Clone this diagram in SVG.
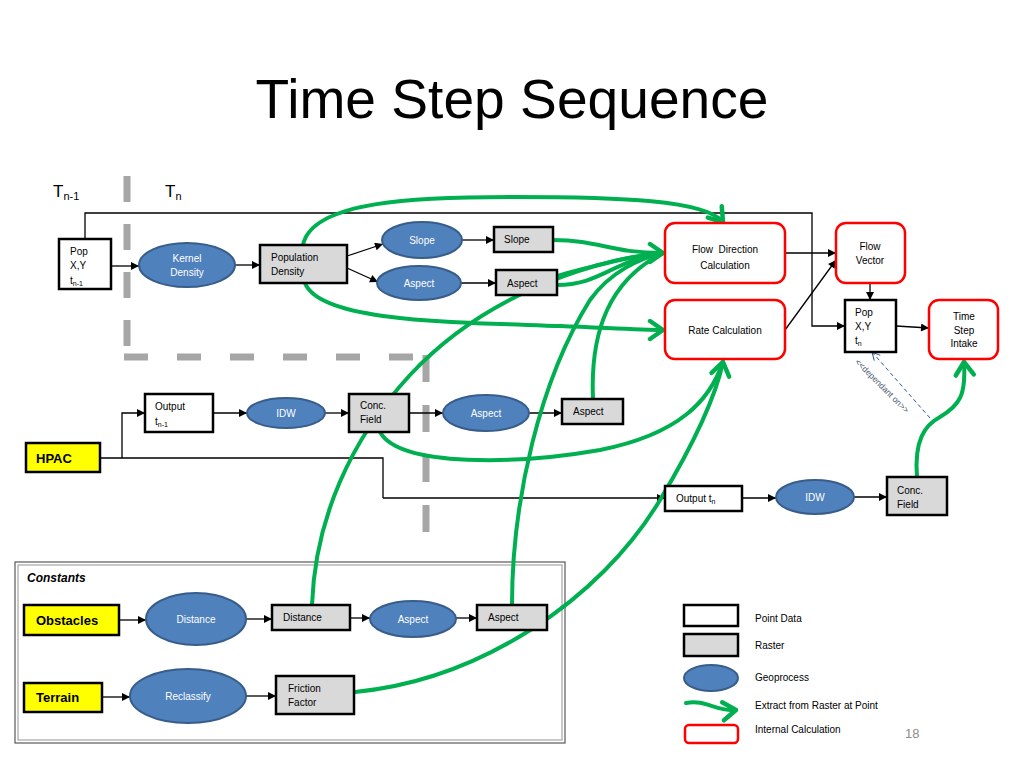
<svg xmlns="http://www.w3.org/2000/svg" width="1024" height="768" viewBox="0 0 1024 768">
<defs>
<style>
text{font-family:"Liberation Sans",Arial,sans-serif;fill:#000}
.t{font-size:10px}
.tw{font-size:10px;fill:#fff}
.tb{font-size:13px;font-weight:bold}
.pt{fill:#fff;stroke:#000;stroke-width:2.5}
.ra{fill:#d9d9d9;stroke:#000;stroke-width:2.5}
.ge{fill:#4f81bd;stroke:#385d8a;stroke-width:2}
.ic{fill:#fff;stroke:#ff0000;stroke-width:2.5}
.ye{fill:#ffff00;stroke:#000;stroke-width:2.5}
.c{fill:none;stroke:#000;stroke-width:1.3;marker-end:url(#ah)}
.cn{fill:none;stroke:#000;stroke-width:1.3}
.g{fill:none;stroke:#00b050;stroke-width:4;stroke-linecap:round}
.ga{fill:none;stroke:#00b050;stroke-width:4;stroke-linecap:round;marker-end:url(#gh)}
.dv{fill:none;stroke:#a6a6a6;stroke-width:7}
.lbl{font-size:17px;fill:#000}
</style>
<marker id="ah" viewBox="0 0 10 10" refX="10" refY="5" markerWidth="10" markerHeight="8" markerUnits="userSpaceOnUse" orient="auto">
<path d="M0,0 L10,5 L0,10 z" fill="#000"/>
</marker>
<marker id="gh" viewBox="-16 -12 20 24" refX="0" refY="0" markerWidth="20" markerHeight="24" markerUnits="userSpaceOnUse" orient="auto">
<path d="M-13,-9 L0,0 L-13,9" fill="none" stroke="#00b050" stroke-width="4.5" stroke-linecap="round" stroke-linejoin="round"/>
</marker>
<marker id="dh" viewBox="-10 -6 12 12" refX="0" refY="0" markerWidth="12" markerHeight="12" markerUnits="userSpaceOnUse" orient="auto">
<path d="M-8,-4 L0,0 L-8,4" fill="none" stroke="#2f5597" stroke-width="1"/>
</marker>
</defs>
<rect width="1024" height="768" fill="#fff"/>

<text x="512" y="118" text-anchor="middle" font-size="56" textLength="513" lengthAdjust="spacingAndGlyphs">Time Step Sequence</text>

<g id="labels">
<text class="lbl" x="53" y="197">T<tspan font-size="11" dy="3">n-1</tspan></text>
<text class="lbl" x="165" y="197">T<tspan font-size="11" dy="3">n</tspan></text>
</g>

<g id="dividers">
<path class="dv" d="M127,176 V357" stroke-dasharray="26 22"/>
<path class="dv" d="M124,357 H426" stroke-dasharray="24 29"/>
<path class="dv" d="M426,355 V532" stroke-dasharray="27 23"/>
</g>

<g id="constants-frame">
<rect x="15" y="562" width="550" height="181" fill="#fff" stroke="#595959" stroke-width="1.2"/>
<rect x="18" y="565" width="544" height="175" fill="none" stroke="#a6a6a6" stroke-width="1.2"/>
<text x="27" y="582" font-size="12" font-weight="bold" font-style="italic">Constants</text>
</g>

<g id="connectors">
<path class="c" d="M85,239 V213 H812 V326 H845"/>
<path class="c" d="M111,266 H139"/>
<path class="c" d="M235,265 H260"/>
<path class="c" d="M347,256 L383,244"/>
<path class="c" d="M347,268 L378,282"/>
<path class="c" d="M462,240 H494"/>
<path class="c" d="M460,283 H496"/>
<path class="c" d="M785,253 H836"/>
<path class="c" d="M785,330 L836,260"/>
<path class="c" d="M870,283 V300"/>
<path class="c" d="M896,326 L929,328"/>
<path class="cn" d="M100,458 H383 V498"/>
<path class="c" d="M383,498 H665"/>
<path class="c" d="M122,458 V413 H145"/>
<path class="c" d="M213,413 H247"/>
<path class="c" d="M325,413 H349"/>
<path class="c" d="M409,413 H443"/>
<path class="c" d="M529,413 H562"/>
<path class="c" d="M742,498 H776"/>
<path class="c" d="M854,497 H887"/>
<path class="c" d="M119,620 H146"/>
<path class="c" d="M246,619 H272"/>
<path class="c" d="M350,618 H370"/>
<path class="c" d="M456,618 H477"/>
<path class="c" d="M102,697 H130"/>
<path class="c" d="M246,696 H276"/>
<path d="M930,418 L872,352" fill="none" stroke="#2f5597" stroke-width="1" stroke-dasharray="4 3" marker-end="url(#dh)"/>
<text x="880" y="388" font-size="8.5" style="fill:#44546a" text-anchor="middle" transform="rotate(45 880 388)">&lt;&lt;dependant on&gt;&gt;</text>
</g>

<g id="extract-connectors">
<path class="ga" d="M303,245 C312,200 420,197 513,197 C620,197 705,200 723,222"/>
<path class="ga" d="M305,283 C320,322 450,322 560,326 C610,328 640,330 663,330"/>
<path class="ga" d="M553,240 C600,240 610,253 663,253"/>
<path class="g" d="M557,276 C595,266 625,256 663,253"/>
<path class="g" d="M557,285 C600,285 610,262 663,253"/>
<path class="g" d="M312,605 C315,520 350,440 410,375 C480,300 580,262 663,253"/>
<path class="g" d="M512,605 C512,500 540,380 590,300 C610,272 640,258 663,253"/>
<path class="g" d="M593,399 C590,330 610,280 663,253"/>
<path class="g" d="M380,432 C400,468 520,464 600,450 C680,434 710,400 723,362"/>
<path class="ga" d="M355,692 C480,680 600,600 660,500 C690,450 715,400 723,362"/>
<path class="ga" d="M917,477 C914,440 925,425 940,417 C960,405 966,395 964,362"/>
</g>

<g id="pop-tn1"><rect class="pt" x="59" y="239" width="52" height="50"/>
<text class="t" x="70" y="255">Pop</text><text class="t" x="70" y="269">X,Y</text><text class="t" x="70" y="284">t<tspan font-size="7" dy="2">n-1</tspan></text></g>
<g id="kernel-density"><ellipse class="ge" cx="187" cy="265" rx="48" ry="22"/>
<text class="tw" x="187" y="262" text-anchor="middle">Kernel</text><text class="tw" x="187" y="276" text-anchor="middle">Density</text></g>
<g id="population-density"><rect class="ra" x="260" y="245" width="87" height="38"/>
<text class="t" x="271" y="261">Population</text><text class="t" x="271" y="275">Density</text></g>
<g id="slope-proc"><ellipse class="ge" cx="422" cy="240" rx="40" ry="18"/><text class="tw" x="422" y="244" text-anchor="middle">Slope</text></g>
<g id="aspect-proc"><ellipse class="ge" cx="419" cy="283" rx="42" ry="17"/><text class="tw" x="419" y="287" text-anchor="middle">Aspect</text></g>
<g id="slope-raster"><rect class="ra" x="494" y="227" width="59" height="25"/><text class="t" x="504" y="243">Slope</text></g>
<g id="aspect-raster"><rect class="ra" x="496" y="270" width="61" height="25"/><text class="t" x="507" y="287">Aspect</text></g>
<g id="flow-direction"><rect class="ic" x="665" y="223" width="120" height="60" rx="10"/>
<text class="t" x="725" y="253" text-anchor="middle" xml:space="preserve">Flow  Direction</text><text class="t" x="725" y="269" text-anchor="middle">Calculation</text></g>
<g id="rate-calculation"><rect class="ic" x="665" y="300" width="120" height="59" rx="10"/>
<text class="t" x="725" y="334" text-anchor="middle">Rate Calculation</text></g>
<g id="flow-vector"><rect class="ic" x="836" y="223" width="69" height="60" rx="10"/>
<text class="t" x="870" y="250" text-anchor="middle">Flow</text><text class="t" x="870" y="264" text-anchor="middle">Vector</text></g>
<g id="pop-tn"><rect class="pt" x="845" y="300" width="51" height="52"/>
<text class="t" x="855" y="316">Pop</text><text class="t" x="855" y="330">X,Y</text><text class="t" x="855" y="344">t<tspan font-size="7" dy="2">n</tspan></text></g>
<g id="time-step-intake"><rect class="ic" x="929" y="300" width="69" height="59" rx="10"/>
<text class="t" x="964" y="320" text-anchor="middle">Time</text><text class="t" x="964" y="334" text-anchor="middle">Step</text><text class="t" x="964" y="347" text-anchor="middle">Intake</text></g>

<g id="output-tn1"><rect class="pt" x="145" y="394" width="68" height="38"/>
<text class="t" x="155" y="410">Output</text><text class="t" x="155" y="425">t<tspan font-size="7" dy="2">n-1</tspan></text></g>
<g id="idw-1"><ellipse class="ge" cx="286" cy="413" rx="39" ry="15"/><text class="tw" x="286" y="417" text-anchor="middle">IDW</text></g>
<g id="conc-field-1"><rect class="ra" x="349" y="394" width="60" height="38"/>
<text class="t" x="360" y="409">Conc.</text><text class="t" x="360" y="423">Field</text></g>
<g id="aspect-proc-2"><ellipse class="ge" cx="486" cy="413" rx="43" ry="18"/><text class="tw" x="486" y="417" text-anchor="middle">Aspect</text></g>
<g id="aspect-raster-2"><rect class="ra" x="562" y="399" width="61" height="25"/><text class="t" x="573" y="415">Aspect</text></g>
<g id="hpac"><rect class="ye" x="26" y="443" width="74" height="29"/><text class="tb" x="36" y="463">HPAC</text></g>
<g id="output-tn"><rect class="pt" x="665" y="486" width="77" height="25"/>
<text class="t" x="676" y="502">Output t<tspan font-size="7" dy="2">n</tspan></text></g>
<g id="idw-2"><ellipse class="ge" cx="815" cy="497" rx="39" ry="17"/><text class="tw" x="815" y="501" text-anchor="middle">IDW</text></g>
<g id="conc-field-2"><rect class="ra" x="887" y="477" width="60" height="38"/>
<text class="t" x="897" y="494">Conc.</text><text class="t" x="897" y="508">Field</text></g>

<g id="obstacles"><rect class="ye" x="24" y="605" width="95" height="30"/><text class="tb" x="36" y="625">Obstacles</text></g>
<g id="distance-proc"><ellipse class="ge" cx="196" cy="619" rx="50" ry="26"/><text class="tw" x="196" y="623" text-anchor="middle">Distance</text></g>
<g id="distance-raster"><rect class="ra" x="272" y="605" width="78" height="25"/><text class="t" x="283" y="621">Distance</text></g>
<g id="aspect-proc-3"><ellipse class="ge" cx="413" cy="619" rx="43" ry="18"/><text class="tw" x="413" y="623" text-anchor="middle">Aspect</text></g>
<g id="aspect-raster-3"><rect class="ra" x="477" y="605" width="70" height="25"/><text class="t" x="488" y="621">Aspect</text></g>
<g id="terrain"><rect class="ye" x="24" y="683" width="78" height="29"/><text class="tb" x="36" y="702">Terrain</text></g>
<g id="reclassify"><ellipse class="ge" cx="188" cy="696" rx="58" ry="27"/><text class="tw" x="188" y="700" text-anchor="middle">Reclassify</text></g>
<g id="friction-factor"><rect class="ra" x="276" y="676" width="78" height="38"/>
<text class="t" x="288" y="692">Friction</text><text class="t" x="288" y="706">Factor</text></g>

<g id="legend">
<rect class="pt" x="684" y="605" width="54" height="21"/>
<rect class="ra" x="684" y="634" width="54" height="22"/>
<ellipse class="ge" cx="711" cy="678" rx="27" ry="13"/>
<path class="ga" d="M686,703 C706,699 716,712 736,710"/>
<rect class="ic" x="685" y="725" width="53" height="18" rx="4"/>
<text class="t" x="755" y="622">Point Data</text>
<text class="t" x="755" y="649">Raster</text>
<text class="t" x="755" y="681">Geoprocess</text>
<text class="t" x="755" y="709">Extract from Raster at Point</text>
<text class="t" x="755" y="733">Internal Calculation</text>
<text x="905" y="738" font-size="13" style="fill:#8c8c8c">18</text>
</g>
</svg>
